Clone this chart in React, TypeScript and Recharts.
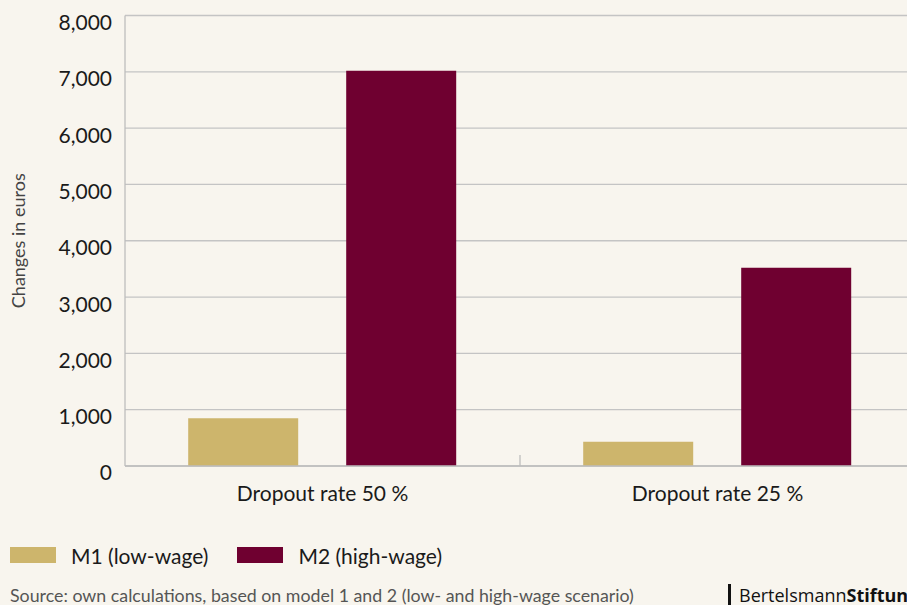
import React from 'react';
import { BarChart, Bar, XAxis, YAxis, CartesianGrid, Legend } from 'recharts';

const categories = ['Dropout rate 50 %', 'Dropout rate 25 %'];
const m1Values = [850, 430];
const m2Values = [7020, 3520];
const yTicks = [0, 1000, 2000, 3000, 4000, 5000, 6000, 7000, 8000];
const seriesNames = ['M1 (low-wage)', 'M2 (high-wage)'];
const seriesColors = ['#cdb56c', '#6f0030'];

const data = categories.map((c, i) => ({ name: c, m1: m1Values[i], m2: m2Values[i] }));

const FONT = 'Lato, "Open Sans", sans-serif';
const BG = '#f8f5ee';
const AXIS = '#bdbdbd';
const X_TICK_MARGIN = 20;

const CategoryTick = (props: any) => {
  const { x, y, payload, index } = props;
  const half = payload && typeof payload.offset === 'number' ? payload.offset : 0;
  const axisY = y - X_TICK_MARGIN;
  return (
    <g>
      {index > 0 && half > 0 && (
        <line x1={x - half} x2={x - half} y1={axisY} y2={axisY - 11} stroke={AXIS} strokeWidth={1.3} />
      )}
      <text x={x} y={y} dy="0.71em" textAnchor="middle" fontSize={21} fill="#1a1a1a" fontFamily={FONT}>
        {payload.value}
      </text>
    </g>
  );
};

const renderLegend = () => (
  <div style={{ display: 'flex', alignItems: 'center', paddingLeft: 10, height: 34, fontFamily: FONT }}>
    {seriesNames.map((n, i) => (
      <div key={n} style={{ display: 'flex', alignItems: 'center', marginRight: i === 0 ? 29 : 0 }}>
        <div style={{ width: 46, height: 16, background: seriesColors[i], marginRight: 15 }} />
        <span style={{ fontSize: 21, color: '#1a1a1a' }}>{n}</span>
      </div>
    ))}
  </div>
);

export default function App() {
  return (
    <div style={{ position: 'absolute', left: 0, top: 0, width: 907, height: 605, overflow: 'hidden', background: BG, fontFamily: FONT }}>
      <BarChart
        width={920}
        height={580}
        data={data}
        margin={{ top: 15.5, right: 5, left: 0, bottom: 8 }}
        barCategoryGap="16%"
        barGap={48}
      >
        <CartesianGrid vertical={false} stroke="#c4c4c4" strokeWidth={1.3} />
        <XAxis
          dataKey="name"
          height={72}
          axisLine={{ stroke: AXIS, strokeWidth: 1.3 }}
          tickLine={false}
          tickSize={0}
          tickMargin={X_TICK_MARGIN}
          interval={0}
          tick={<CategoryTick />}
        />
        <YAxis
          width={125}
          domain={[0, 8000]}
          ticks={yTicks}
          interval={0}
          axisLine={{ stroke: AXIS, strokeWidth: 1.3 }}
          tickLine={false}
          tickSize={0}
          tickMargin={13}
          tickFormatter={(v: number) => v.toLocaleString('en-US')}
          tick={{ fontSize: 21, fill: '#1a1a1a', fontFamily: FONT, dy: 7 }}
          label={{
            value: 'Changes in euros',
            angle: -90,
            position: 'insideLeft',
            offset: 19,
            style: { textAnchor: 'middle', fontSize: 18, fill: '#444', fontFamily: FONT },
          }}
        />
        <Legend verticalAlign="bottom" align="left" content={renderLegend} wrapperStyle={{ height: 34 }} />
        <Bar dataKey="m1" name={seriesNames[0]} fill={seriesColors[0]} isAnimationActive={false} />
        <Bar dataKey="m2" name={seriesNames[1]} fill={seriesColors[1]} isAnimationActive={false} />
      </BarChart>
      <div style={{ position: 'absolute', left: 10, top: 584, fontSize: 17.8, color: '#555', whiteSpace: 'nowrap', lineHeight: '22px' }}>
        Source: own calculations, based on model 1 and 2 (low- and high-wage scenario)
      </div>
      <div style={{ position: 'absolute', left: 728, top: 584, width: 2.5, height: 21, background: '#111' }} />
      <div style={{ position: 'absolute', left: 739, top: 584, fontSize: 18, color: '#111', whiteSpace: 'nowrap', letterSpacing: 0, lineHeight: '22px', fontFamily: '"Open Sans", sans-serif' }}>
        Bertelsmann<b>Stiftung</b>
      </div>
    </div>
  );
}
